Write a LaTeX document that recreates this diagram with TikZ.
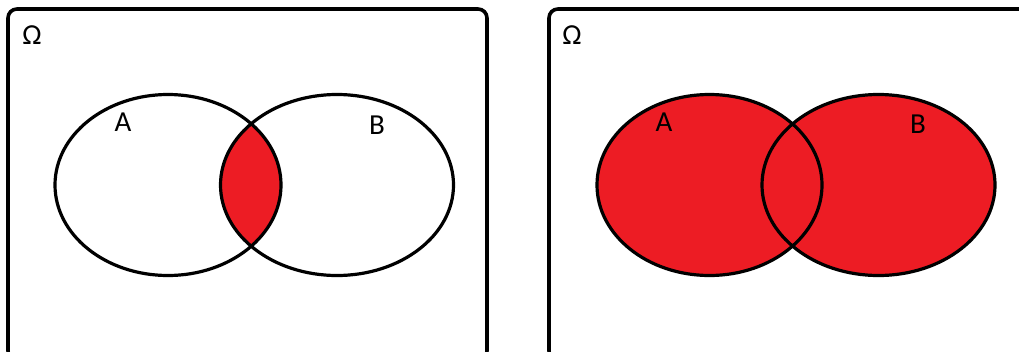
\documentclass[tikz,border=0pt]{standalone}
\usepackage{fontspec}
\setmainfont{Carlito}
\definecolor{paintred}{HTML}{ED1C24}
\begin{document}
\begin{tikzpicture}[x=1pt,y=-1pt,
  frame/.style={line width=3.6pt,rounded corners=9pt},
  setline/.style={line width=3.2pt},
  lbl/.style={font=\fontsize{29}{29}\selectfont,inner sep=0pt}]
\useasboundingbox (0,0) rectangle (1019,351);
\clip (0,0) rectangle (1019,351);
% left panel
\draw[frame] (8,9) rectangle (487,360);
\begin{scope}
  \clip (168,185) ellipse [x radius=113, y radius=90.5];
  \fill[paintred] (337,185) ellipse [x radius=116.5, y radius=90.5];
\end{scope}
\draw[setline] (168,185) ellipse [x radius=113, y radius=90.5];
\draw[setline] (337,185) ellipse [x radius=116.5, y radius=90.5];
\node[lbl] (om1) at (32,35) {Ω};
\node[lbl] (a1) at (123,122) {A};
\node[lbl] (b1) at (377,125) {B};
% right panel
\draw[frame] (549,9) rectangle (1032,360);
\fill[paintred] (709.5,185) ellipse [x radius=112.5, y radius=90.5];
\fill[paintred] (878.5,185) ellipse [x radius=116.5, y radius=90.5];
\draw[setline] (709.5,185) ellipse [x radius=112.5, y radius=90.5];
\draw[setline] (878.5,185) ellipse [x radius=116.5, y radius=90.5];
\node[lbl] (om2) at (572,35) {Ω};
\node[lbl] (a2) at (664,122) {A};
\node[lbl] (b2) at (918,124) {B};
\end{tikzpicture}
\end{document}
